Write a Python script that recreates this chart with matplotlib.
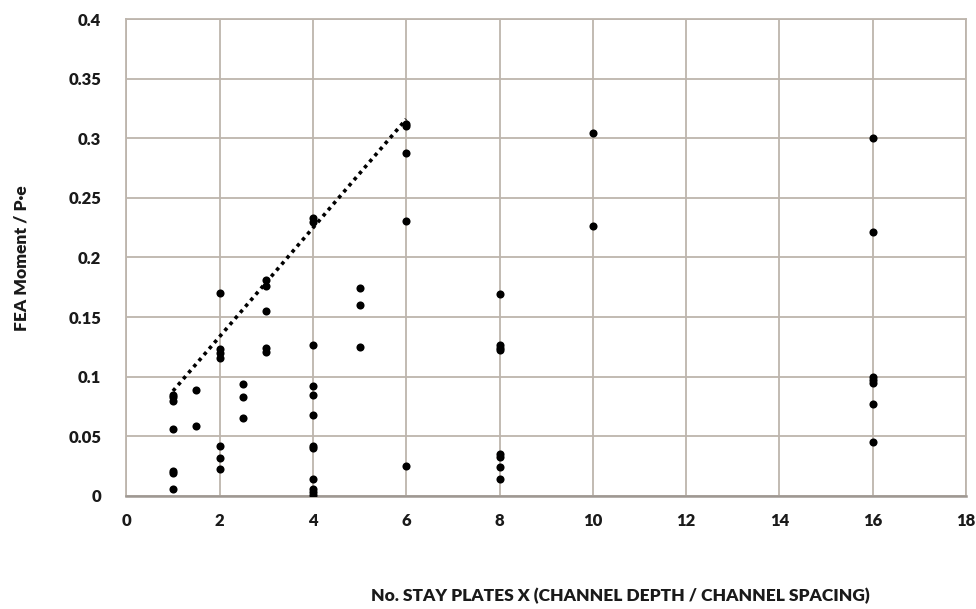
import matplotlib
matplotlib.use("Agg")
import matplotlib.pyplot as plt

# Data
x_vals = [1, 1, 1, 1, 1, 1, 1,
          1.5, 1.5,
          2, 2, 2, 2, 2, 2, 2,
          2.5, 2.5, 2.5,
          3, 3, 3, 3, 3,
          4, 4, 4, 4, 4, 4, 4, 4, 4, 4, 4, 4,
          5, 5, 5,
          6, 6, 6, 6, 6,
          8, 8, 8, 8, 8, 8, 8, 8,
          10, 10,
          16, 16, 16, 16, 16, 16, 16]
y_vals = [0.080, 0.083, 0.056, 0.021, 0.019, 0.006, 0.085,
          0.089, 0.059,
          0.170, 0.123, 0.120, 0.116, 0.042, 0.032, 0.023,
          0.094, 0.083, 0.065,
          0.181, 0.176, 0.155, 0.124, 0.121,
          0.233, 0.230, 0.127, 0.092, 0.085, 0.068, 0.042, 0.040, 0.014, 0.006, 0.003, 0.001,
          0.174, 0.160, 0.125,
          0.312, 0.310, 0.288, 0.231, 0.025,
          0.169, 0.127, 0.124, 0.122, 0.035, 0.033, 0.024, 0.014,
          0.304, 0.226,
          0.300, 0.221, 0.100, 0.097, 0.095, 0.077, 0.045]

trend_x = [1, 6]
trend_y = [0.088, 0.316]

x_ticks = [0, 2, 4, 6, 8, 10, 12, 14, 16, 18]
y_ticks = [0, 0.05, 0.1, 0.15, 0.2, 0.25, 0.3, 0.35, 0.4]
y_tick_labels = ["0", "0.05", "0.1", "0.15", "0.2", "0.25", "0.3", "0.35", "0.4"]

plt.rcParams['font.family'] = ['Lato', 'DejaVu Sans']

fig = plt.figure(figsize=(9.76, 6.09), dpi=100)
ax = fig.add_axes([0.1294, 0.1856, 0.8604, 0.7832])

grid_c = "#bdb5ad"
ax.set_xlim(0, 18)
ax.set_ylim(0, 0.4)
ax.set_xticks(x_ticks)
ax.set_yticks(y_ticks)
ax.set_yticklabels(y_tick_labels)
ax.grid(True, color=grid_c, linewidth=1.3)
ax.set_axisbelow(True)
for s in ax.spines.values():
    s.set_color(grid_c)
    s.set_linewidth(1.3)
ax.spines['bottom'].set_color("#9e9892")
ax.spines['bottom'].set_linewidth(1.8)
ax.tick_params(axis='y', length=0, labelsize=12, pad=18)
ax.tick_params(axis='x', length=0, labelsize=12, pad=12)
for lab in ax.get_xticklabels() + ax.get_yticklabels():
    lab.set_fontweight('heavy')
    lab.set_color('#1a1a1a')

ax.plot(trend_x, trend_y, linestyle=(0, (1, 1.2)), color='black', linewidth=2.6, zorder=3)
ax.scatter(x_vals, y_vals, s=34, color='black', zorder=4, linewidths=0)

fig.text(22 / 976, 1 - 258 / 609, "FEA Moment / P·e", rotation=90, fontsize=12.5,
         fontweight='heavy', color='#1a1a1a', ha='center', va='center')
fig.text(620 / 976, 1 - 596 / 609, "No. STAY PLATES X (CHANNEL DEPTH / CHANNEL SPACING)",
         fontsize=12.5, fontweight='heavy', color='#1a1a1a', ha='center', va='center')

fig.savefig("out.png", dpi=100, facecolor='white')
